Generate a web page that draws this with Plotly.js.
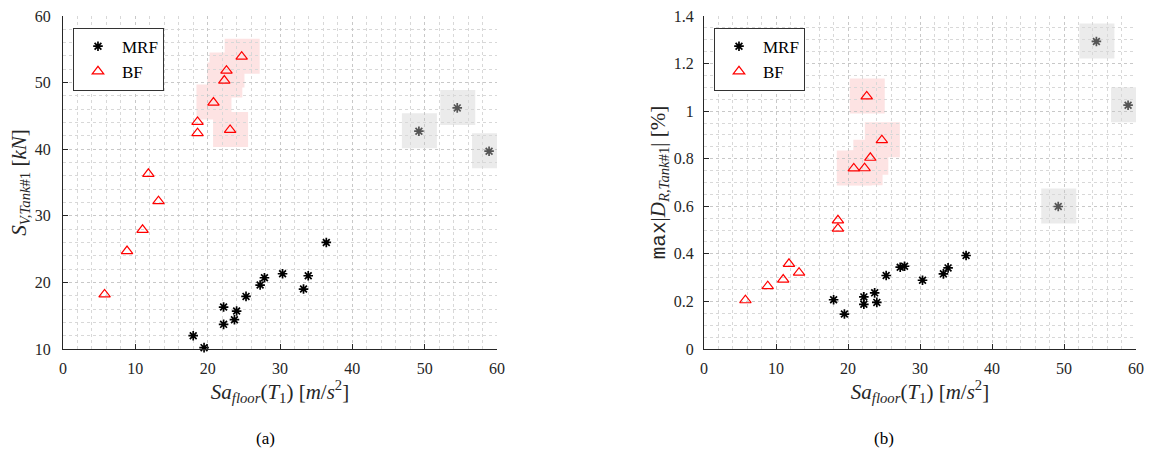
<!DOCTYPE html>
<html>
<head>
<meta charset="utf-8">
<script src="https://cdn.plot.ly/plotly-3.0.1.min.js"></script>
<style>html,body{margin:0;padding:0;background:#fff;}#chart{width:1149px;height:460px;}</style>
</head>
<body>
<div id="chart"></div>
<script>
// ---- data ----
const bfSa     = [24.7, 22.6, 22.3, 20.8, 18.6, 18.6, 23.1, 11.8, 13.2, 11.0, 8.85, 5.75];
const bfShear  = [53.9, 51.8, 50.3, 47.0, 44.1, 42.4, 42.9, 36.3, 32.2, 27.9, 24.7, 18.2];
const bfDrift  = [0.878, 1.062, 0.760, 0.759, 0.541, 0.506, 0.804, 0.358, 0.321, 0.292, 0.264, 0.205];
const bfFlag   = [1, 1, 1, 1, 0, 0, 1, 0, 0, 0, 0, 0];

const mrfSa    = [36.4, 33.9, 33.25, 30.35, 27.85, 27.25, 25.3, 22.2, 22.2, 24.0, 23.7, 18.0, 19.5, 54.5, 49.2, 58.9];
const mrfShear = [26.0, 21.0, 19.0, 21.3, 20.7, 19.6, 17.9, 16.3, 13.7, 15.7, 14.4, 12.0, 10.2, 46.2, 42.7, 39.7];
const mrfDrift = [0.393, 0.341, 0.316, 0.289, 0.348, 0.344, 0.309, 0.219, 0.188, 0.196, 0.236, 0.207, 0.147, 1.293, 0.599, 1.025];
const mrfFlag  = [0, 0, 0, 0, 0, 0, 0, 0, 0, 0, 0, 0, 0, 1, 1, 1];

const seriesNames = ['MRF', 'BF'];
const panelLabels = ['(a)', '(b)'];

// ---- styles ----
const FONT = 'Liberation Serif, Times New Roman, serif';
const AXC = '#262626';
const TSIZE = 21;
const mrfColors = mrfFlag.map(f => f ? '#555555' : '#000000');

function starTrace(x, y, xa, ya, leg) {
  return {x: x, y: y, xaxis: xa, yaxis: ya, type: 'scatter', mode: 'markers', name: seriesNames[0],
    legend: leg, cliponaxis: false,
    marker: {symbol: 'asterisk-open', size: 8, color: mrfColors, line: {width: 1.7, color: mrfColors}}};
}
function triTrace(x, y, xa, ya, leg) {
  return {x: x, y: y, xaxis: xa, yaxis: ya, type: 'scatter', mode: 'markers', name: seriesNames[1],
    legend: leg, cliponaxis: false,
    marker: {symbol: 'triangle-up-open', size: 10, color: '#ff0000', line: {width: 1.2, color: '#ff0000'}}};
}
function boxes(xs, ys, flags, xr, yr, color) {
  const out = [];
  xs.forEach((x, i) => {
    if (!flags[i]) return;
    out.push({type: 'rect', xref: xr, yref: yr, xsizemode: 'pixel', ysizemode: 'pixel',
      xanchor: x, yanchor: ys[i], x0: -17, x1: 18, y0: -17, y1: 18,
      fillcolor: color, line: {width: 0}, layer: 'below'});
  });
  return out;
}

const data = [
  starTrace(mrfSa, mrfShear, 'x', 'y', 'legend'),
  triTrace(bfSa, bfShear, 'x', 'y', 'legend'),
  starTrace(mrfSa, mrfDrift, 'x2', 'y2', 'legend2'),
  triTrace(bfSa, bfDrift, 'x2', 'y2', 'legend2')
];

const xTitle = '<i>Sa</i><sub><i>floor</i></sub>(<i>T</i><sub>1</sub>) [<i>m</i>/<i>s</i><sup>2</sup>]';
const grid = {showgrid: true, gridcolor: '#c8c8c8', griddash: 'dot', gridwidth: 1, zeroline: false,
  showline: true, linecolor: AXC, linewidth: 1, ticks: 'inside', ticklen: 5, tickcolor: AXC,
  tickfont: {family: FONT, size: 16, color: AXC}, automargin: false, fixedrange: true};
function ax(extra, minorDt) {
  return Object.assign({}, grid, extra, {minor: {dtick: minorDt, showgrid: true, gridcolor: '#d8d8d8', griddash: 'dot', ticks: ''}});
}

const layout = {
  width: 1149, height: 460,
  margin: {l: 63, r: 13, t: 16, b: 111},
  paper_bgcolor: '#ffffff', plot_bgcolor: '#ffffff',
  font: {family: FONT, color: AXC},
  xaxis: ax({domain: [0, 0.4045], range: [0, 60], dtick: 10, tick0: 0, anchor: 'y', ticklabelstandoff: 5,
    title: {text: xTitle, font: {family: FONT, size: TSIZE, color: AXC}, standoff: 6}}, 2),
  yaxis: ax({domain: [0, 1], range: [10, 60], dtick: 10, tick0: 0, anchor: 'x', ticklabelstandoff: 8,
    title: {text: '<i>S</i><sub><i>V,Tank</i>#1</sub> [<i>kN</i>]', font: {family: FONT, size: TSIZE, color: AXC}, standoff: 2}}, 2),
  xaxis2: ax({domain: [0.5974, 1], range: [0, 60], dtick: 10, tick0: 0, anchor: 'y2', ticklabelstandoff: 5,
    title: {text: xTitle, font: {family: FONT, size: TSIZE, color: AXC}, standoff: 6}}, 2),
  yaxis2: ax({domain: [0, 1], range: [0, 1.4], dtick: 0.2, tick0: 0, anchor: 'x2', ticklabelstandoff: 6,
    title: {text: '<span style="font-family:Liberation Mono, DejaVu Sans Mono, monospace">max</span>|<i>D</i><sub><i>R,Tank</i>#1</sub>| [%]', font: {family: FONT, size: TSIZE, color: AXC}, standoff: 2}}, 0.05),
  legend: {x: 0.0093, y: 0.965, xanchor: 'left', yanchor: 'top', bgcolor: '#ffffff', bordercolor: '#333333', borderwidth: 1,
    font: {family: FONT, size: 17, color: '#000'}, itemwidth: 38, tracegroupgap: 0},
  legend2: {x: 0.6067, y: 0.965, xanchor: 'left', yanchor: 'top', bgcolor: '#ffffff', bordercolor: '#333333', borderwidth: 1,
    font: {family: FONT, size: 17, color: '#000'}, itemwidth: 38, tracegroupgap: 0},
  shapes: [].concat(
    boxes(bfSa, bfShear, bfFlag, 'x', 'y', '#fde3e3'),
    boxes(mrfSa, mrfShear, mrfFlag, 'x', 'y', '#ebebeb'),
    boxes(bfSa, bfDrift, bfFlag, 'x2', 'y2', '#fde3e3'),
    boxes(mrfSa, mrfDrift, mrfFlag, 'x2', 'y2', '#ebebeb')
  ),
  annotations: [
    {text: panelLabels[0], xref: 'paper', yref: 'paper', x: 0.178, y: -0.303, showarrow: false, font: {family: FONT, size: 17, color: '#000'}},
    {text: panelLabels[1], xref: 'paper', yref: 'paper', x: 0.776, y: -0.303, showarrow: false, font: {family: FONT, size: 17, color: '#000'}}
  ],
  showlegend: true
};

Plotly.newPlot('chart', data, layout, {displayModeBar: false, staticPlot: true});
</script>
</body>
</html>
